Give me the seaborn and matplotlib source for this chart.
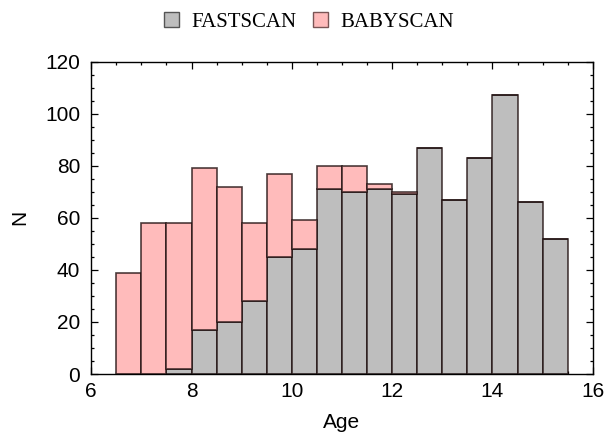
"""Stacked age histogram: FASTSCAN vs BABYSCAN."""
import matplotlib
matplotlib.use("Agg")
import matplotlib.pyplot as plt
import numpy as np
import pandas as pd
import seaborn as sns
from matplotlib.patches import Patch
from matplotlib.ticker import MultipleLocator

# bin left edges (width 0.5)
bin_left = [6.5, 7.0, 7.5, 8.0, 8.5, 9.0, 9.5, 10.0, 10.5, 11.0,
            11.5, 12.0, 12.5, 13.0, 13.5, 14.0, 14.5, 15.0]
fastscan_n = [0, 0, 2, 17, 20, 28, 45, 48, 71, 70,
              71, 69, 87, 67, 83, 107, 66, 52]
babyscan_n = [39, 58, 56, 62, 52, 30, 32, 11, 9, 10,
              2, 1, 0, 0, 0, 0, 0, 0]

GRAY = "#bebebe"
PINK = "#ffbbbb"

centers = np.array(bin_left) + 0.25
df = pd.concat([
    pd.DataFrame({"Age": centers, "N": fastscan_n, "scan": "FASTSCAN"}),
    pd.DataFrame({"Age": centers, "N": babyscan_n, "scan": "BABYSCAN"}),
], ignore_index=True)
bins = list(bin_left) + [bin_left[-1] + 0.5]

sns.set_style("ticks")
plt.rcParams["font.family"] = ["Liberation Sans", "DejaVu Sans"]
plt.rcParams["text.color"] = "black"
plt.rcParams["axes.labelcolor"] = "black"
plt.rcParams["xtick.color"] = "black"
plt.rcParams["ytick.color"] = "black"
plt.rcParams["axes.edgecolor"] = "black"

fig, ax = plt.subplots(figsize=(6.08, 4.37), dpi=100)
# seaborn stacks the last hue level at the bottom
sns.histplot(
    data=df, x="Age", weights="N", hue="scan",
    hue_order=["BABYSCAN", "FASTSCAN"],
    palette={"FASTSCAN": GRAY, "BABYSCAN": PINK},
    bins=bins, multiple="stack", alpha=1,
    edgecolor=(0.12, 0.06, 0.06, 0.8), linewidth=1.2,
    legend=False, ax=ax,
)

ax.set_xlim(6, 16)
ax.set_ylim(0, 120)
ax.xaxis.set_major_locator(MultipleLocator(2))
ax.xaxis.set_minor_locator(MultipleLocator(0.5))
ax.yaxis.set_major_locator(MultipleLocator(20))
ax.yaxis.set_minor_locator(MultipleLocator(5))
ax.tick_params(which="both", direction="in", top=True, right=True,
               labelsize=15, width=0.9)
ax.tick_params(which="major", length=5)
ax.tick_params(which="minor", length=2.5)
ax.tick_params(axis="x", which="major", pad=6)
ax.tick_params(axis="y", which="major", pad=8)
for s in ax.spines.values():
    s.set_linewidth(1)
ax.set_xlabel("Age", fontsize=15, labelpad=8)
ax.set_ylabel("N", fontsize=15, labelpad=11)

handles = [Patch(facecolor=GRAY, edgecolor="#555555", label="FASTSCAN"),
           Patch(facecolor=PINK, edgecolor="#7a5555", label="BABYSCAN")]
fig.legend(handles=handles, loc="upper center", ncol=2, frameon=False,
           bbox_to_anchor=(0.508, 1.015), handlelength=0.7, handleheight=0.7,
           handletextpad=0.6, columnspacing=0.8,
           prop={"family": "Liberation Serif", "size": 15})

fig.subplots_adjust(left=0.150, right=0.975, top=0.859, bottom=0.144)
fig.savefig("out.png", dpi=100)
